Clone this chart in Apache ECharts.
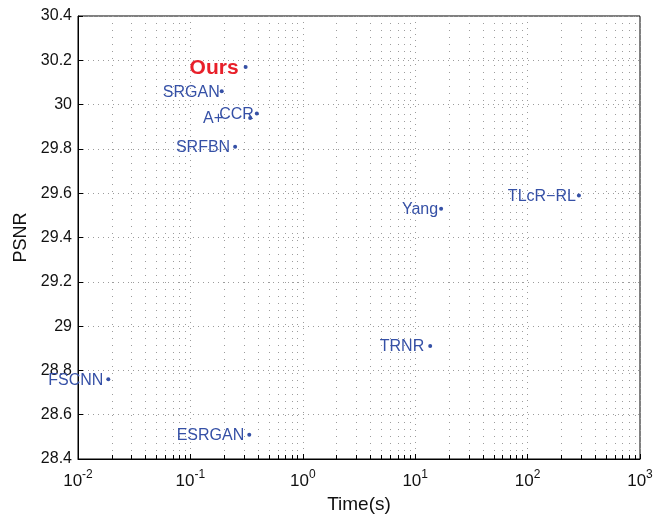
<!DOCTYPE html>
<html>
<head>
<meta charset="utf-8">
<script src="https://cdn.jsdelivr.net/npm/echarts@6/dist/echarts.min.js"></script>
<style>
  html, body { margin: 0; padding: 0; background: #fff; }
  #chart { width: 653px; height: 515px; }
</style>
</head>
<body>
<div id="chart"></div>
<script>
// Runtime (seconds) vs. PSNR (dB) of each super-resolution method
const methods = ['Ours', 'SRGAN', 'A+', 'CCR', 'SRFBN', 'Yang', 'TLcR\u2212RL', 'TRNR', 'FSCNN', 'ESRGAN'];
const timeSec = [0.31, 0.19, 0.34, 0.39, 0.25, 17, 286, 13.6, 0.0186, 0.334];
const psnr    = [30.17, 30.06, 29.94, 29.96, 29.81, 29.53, 29.59, 28.91, 28.76, 28.51];

// Axis ranges and tick positions
const timeDecades = [0.01, 0.1, 1, 10, 100, 1000];
const psnrMin = 28.4, psnrMax = 30.4, psnrStep = 0.2;

// minor log ticks: 2..9 within each decade
const minorTimes = [];
timeDecades.slice(0, -1).forEach(d => {
  for (let k = 2; k <= 9; k++) minorTimes.push(+(d * k).toPrecision(3));
});

// per-label gap to the left of each marker
const labelGap = { 'Ours': 5, 'SRGAN': 0, 'A+': 25, 'CCR': 1, 'SRFBN': 3, 'Yang': 1,
                   'TLcR\u2212RL': 1, 'TRNR': 4, 'FSCNN': 3, 'ESRGAN': 3 };

const BLUE = '#3550a6';
const RED = '#e8202a';
const FONT = '"Liberation Sans", Arial, Helvetica, sans-serif';

const points = methods.map((m, i) => {
  const isOurs = m === 'Ours';
  return {
    name: m,
    value: [timeSec[i], psnr[i]],
    label: {
      show: true,
      position: 'left',
      distance: labelGap[m],
      offset: [0, 1],
      formatter: m,
      color: isOurs ? RED : BLUE,
      fontSize: isOurs ? 21 : 16,
      fontWeight: isOurs ? 'bold' : 'normal',
      fontFamily: FONT
    }
  };
});

const dotted = (c, pat) => ({ color: c, width: 1, type: pat });

const chart = echarts.init(document.getElementById('chart'), null, { renderer: 'canvas' });
chart.setOption({
  animation: false,
  backgroundColor: '#fff',
  grid: {
    left: 78, right: 13, top: 16, bottom: 56,
    outerBoundsMode: 'none', containLabel: false,
    show: true, borderColor: '#000', borderWidth: 1, backgroundColor: 'transparent'
  },
  xAxis: [
    {
      type: 'log', logBase: 10, min: timeDecades[0], max: timeDecades[timeDecades.length - 1],
      splitNumber: timeDecades.length - 1,
      name: 'Time(s)', nameLocation: 'middle', nameGap: 32,
      nameTextStyle: { color: '#111', fontSize: 19, fontFamily: FONT },
      axisLine: { show: true, lineStyle: { color: '#000', width: 1 } },
      axisTick: { show: true, inside: true, length: 5, lineStyle: { color: '#000' } },
      splitLine: { show: true, lineStyle: dotted('#9c9c9c', [1, 5]) },
      axisLabel: {
        margin: 14,
        formatter: v => '{b|10}{s|' + Math.round(Math.log10(v)) + '}',
        rich: {
          b: { fontSize: 17, lineHeight: 17, verticalAlign: 'bottom', color: '#111', fontFamily: FONT },
          s: { fontSize: 12, lineHeight: 12, padding: [0, 0, 9, 0], verticalAlign: 'bottom', color: '#111', fontFamily: FONT }
        }
      }
    },
    {
      // minor log ticks and their grid lines
      type: 'log', logBase: 10, min: timeDecades[0], max: timeDecades[timeDecades.length - 1],
      position: 'bottom', gridIndex: 0,
      axisLine: { show: false },
      axisLabel: { show: false },
      axisTick: { show: true, inside: true, length: 4, customValues: minorTimes, lineStyle: { color: '#000' } },
      splitLine: { show: true, customValues: minorTimes, lineStyle: dotted('#9c9c9c', [1, 6]) }
    }
  ],
  yAxis: {
    type: 'value', min: psnrMin, max: psnrMax, interval: psnrStep,
    name: 'PSNR', nameLocation: 'middle', nameGap: 47,
    nameTextStyle: { color: '#111', fontSize: 18, fontFamily: FONT },
    axisLine: { show: true, lineStyle: { color: '#000', width: 1 } },
    axisTick: { show: true, inside: true, length: 5, lineStyle: { color: '#000' } },
    splitLine: { show: true, lineStyle: dotted('#9c9c9c', [1, 4]) },
    axisLabel: { margin: 6, color: '#111', fontSize: 16, fontFamily: FONT,
                 formatter: v => String(+v.toFixed(1)) }
  },
  series: [{
    type: 'scatter',
    xAxisIndex: 0,
    symbol: 'circle',
    symbolSize: 4,
    itemStyle: { color: BLUE, opacity: 1 },
    data: points
  }]
});
</script>
</body>
</html>
